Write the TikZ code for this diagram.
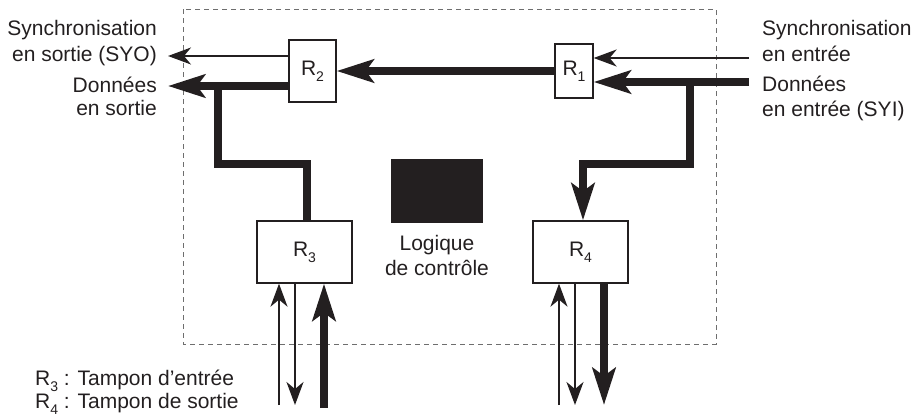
\documentclass[tikz,border=0pt]{standalone}
\usepackage{fontspec}
\setmainfont{Liberation Sans}
\usetikzlibrary{arrows.meta}
\definecolor{ink}{RGB}{35,31,32}
\definecolor{dashgray}{RGB}{110,110,110}
\newcommand\sbx[1]{\raisebox{-0.3em}{\fontsize{14}{14}\selectfont #1}}
\begin{document}
\begin{tikzpicture}[x=1pt,y=-1pt,
  every node/.style={font=\fontsize{21}{25}\selectfont, text=ink, inner sep=0pt},
  reg/.style={draw=ink, line width=1.3pt, fill=white, inner sep=0pt},
  thinarrow/.style={draw=ink, line width=1.8pt, -{Stealth[length=23pt,width=17pt,inset=7pt]}},
  thickarrow/.style={draw=ink, line width=7.5pt, line join=miter, -{Stealth[length=37pt,width=23pt,inset=8pt]}},
  thickline/.style={draw=ink, line width=7.5pt, line join=miter},
  frame/.style={draw=dashgray, line width=1pt, dash pattern=on 5pt off 4pt}]
\useasboundingbox (0,0) rectangle (914,418);
\draw[frame] (183,9) rectangle (716,344);

% boxes
\node[reg, minimum width=47pt, minimum height=62pt] (R2) at (312.5,71) {R\sbx{2}};
\node[reg, minimum width=38pt, minimum height=54pt] (R1) at (574,71) {R\sbx{1}};
\node[reg, minimum width=95pt, minimum height=62pt] (R3) at (304.5,252) {R\sbx{3}};
\node[reg, minimum width=95pt, minimum height=62pt] (R4) at (580.5,252) {R\sbx{4}};
\node[fill=ink, minimum width=92pt, minimum height=64pt] (ctrl) at (437,191) {};

% free ends
\coordinate (syo) at (168,56);
\coordinate (dout) at (168,86);
\coordinate (syi) at (749,58);
\coordinate (din) at (749,82);
\coordinate (jin) at (690,82);
\coordinate (jout) at (218,86);
\coordinate (a1) at (279,405);
\coordinate (a2) at (295,405);
\coordinate (a3) at (324,408);
\coordinate (b1) at (559,405);
\coordinate (b2) at (575,405);
\coordinate (b3) at (604,405);

% connectors
\draw[thickarrow] (R1.west) -- (R2.east);
\draw[thinarrow] (R2.west |- syo) -- (syo);
\draw[thickarrow] (R2.west |- dout) -- (dout);
\draw[thinarrow] (syi) -- (R1.east |- syi);
\draw[thickarrow] (din) -- (R1.east |- din);
\draw[thickarrow] (jin) -- (690,164) -- (583,164) -- (R4.north -| 583,0);
\draw[thickline] (R3.north -| 307,0) -- (307,164) -- (218,164) -- (jout);

\draw[thinarrow] (a1) -- (a1 |- R3.south);
\draw[thinarrow] (R3.south -| a2) -- (a2);
\draw[thickarrow] (a3) -- (a3 |- R3.south);
\draw[thinarrow] (b1) -- (b1 |- R4.south);
\draw[thinarrow] (R4.south -| b2) -- (b2);
\draw[thickarrow] (R4.south -| b3) -- (b3);

% labels
\node[anchor=base east] (l1) at (157,35) {Synchronisation};
\node[anchor=base east] (l2) at (157,61) {en sortie (SYO)};
\node[anchor=base east] (l3) at (157,92) {Données};
\node[anchor=base east] (l4) at (157,115) {en sortie};
\node[anchor=base west] (r1) at (762,35) {Synchronisation};
\node[anchor=base west] (r2) at (762,61) {en entrée};
\node[anchor=base west] (r3) at (762,91) {Données};
\node[anchor=base west] (r4) at (762,116) {en entrée (SYI)};
\node[anchor=base] (c1) at (437,250) {Logique};
\node[anchor=base] (c2) at (437,275) {de contrôle};
\node[anchor=base west] (g1) at (35,385) {R\sbx{3} : Tampon d’entrée};
\node[anchor=base west] (g2) at (35,408) {R\sbx{4} : Tampon de sortie};
\end{tikzpicture}
\end{document}
